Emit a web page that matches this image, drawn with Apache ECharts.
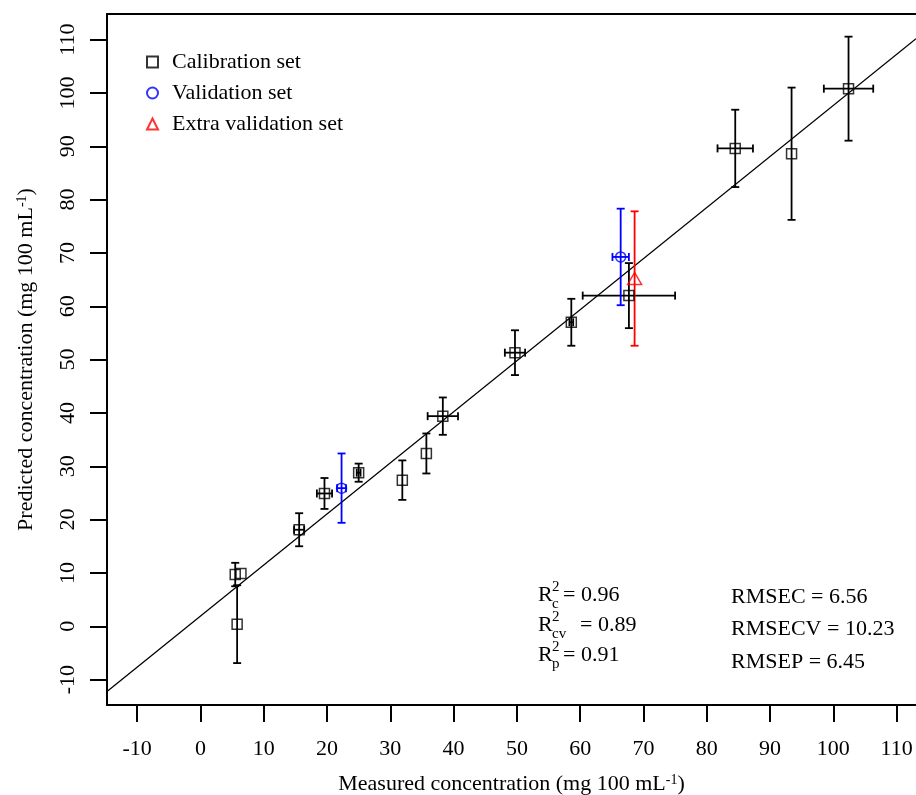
<!DOCTYPE html>
<html>
<head>
<meta charset="utf-8">
<script src="https://cdn.jsdelivr.net/npm/echarts@6/dist/echarts.min.js"></script>
<style>
  html, body { margin: 0; padding: 0; background: #fff; }
  #chart { width: 916px; height: 795px; }
</style>
</head>
<body>
<div id="chart"></div>
<script>
// axis ranges (R style padding; right side of the box is cut off) and tick values
var xMin = -14.76
var xMax = 113.06
var yMin = -14.76
var yMax = 114.8
var tickValues = [-10, 0, 10, 20, 30, 40, 50, 60, 70, 80, 90, 100, 110]

// calibration set
var calX = [5.8, 5.5, 6.4, 15.6, 19.6, 25.0, 31.9, 35.7, 38.3, 49.7, 58.6, 67.7, 84.5, 93.4, 102.4]
var calY = [0.4, 9.7, 9.9, 18.1, 24.9, 28.8, 27.4, 32.4, 39.4, 51.3, 57.0, 62.0, 89.6, 88.6, 100.8]
var calXErr = [0, 0, 0, 0.8, 1.2, 0.3, 0, 0, 2.4, 1.6, 0.3, 7.3, 2.8, 0, 3.9]
var calYErr = [7.3, 2.2, 0, 3.1, 2.9, 1.7, 3.7, 3.75, 3.5, 4.2, 4.4, 6.1, 7.25, 12.4, 9.75]

// validation set
var valX = [22.3, 66.4]
var valY = [25.9, 69.25]
var valXErr = [0.7, 1.3]
var valYErr = [6.5, 9.05]

// extra validation set
var extX = [68.6]
var extY = [65.2]
var extXErr = [0]
var extYErr = [12.6]

// fitted line
var fitSlope = 0.9575
var fitIntercept = 1.91

// statistics text
var r2Subs = ['c', 'cv', 'p']
var r2Values = ['0.96', '0.89', '0.91']
var rmseNames = ['RMSEC', 'RMSECV', 'RMSEP']
var rmseValues = ['6.56', '10.23', '6.45']

var FONT = 'Liberation Serif, Times New Roman, serif'

function points (xs, ys) {
  return xs.map(function (x, i) { return [x, ys[i]] })
}
function errPoints (xs, ys, xe, ye) {
  return xs.map(function (x, i) { return [x, ys[i], xe[i], ye[i]] })
}

function errorBars (color) {
  return function (params, api) {
    var x = api.value(0)
    var y = api.value(1)
    var xe = api.value(2)
    var ye = api.value(3)
    var cap = 4
    var style = { stroke: color, lineWidth: 1.8, fill: null }
    var kids = []
    function seg (x1, y1, x2, y2) {
      kids.push({ type: 'line', shape: { x1: x1, y1: y1, x2: x2, y2: y2 }, style: style })
    }
    if (ye > 0) {
      var t = api.coord([x, y + ye])
      var b = api.coord([x, y - ye])
      seg(t[0], t[1], b[0], b[1])
      seg(t[0] - cap, t[1], t[0] + cap, t[1])
      seg(b[0] - cap, b[1], b[0] + cap, b[1])
    }
    if (xe > 0) {
      var l = api.coord([x - xe, y])
      var r = api.coord([x + xe, y])
      seg(l[0], l[1], r[0], r[1])
      seg(l[0], l[1] - cap, l[0], l[1] + cap)
      seg(r[0], r[1] - cap, r[0], r[1] + cap)
    }
    return { type: 'group', children: kids }
  }
}

function errSeries (name, data, color) {
  return {
    name: name,
    type: 'custom',
    renderItem: errorBars(color),
    data: data,
    encode: { x: 0, y: 1 },
    z: 2,
    silent: true
  }
}

var nameStyle = {
  fontFamily: FONT, fontSize: 22, color: '#000',
  rich: { sup: { fontFamily: FONT, fontSize: 14, color: '#000', verticalAlign: 'top', lineHeight: 22 } }
}
var lineStyle = { color: '#000', width: 2 }
var tickStyle = { show: true, customValues: tickValues, length: 17, lineStyle: { color: '#000', width: 2 } }

var graphics = []
var rY = [595, 625, 655]
var eqX = [563, 580, 563]
r2Subs.forEach(function (s, i) {
  graphics.push({ type: 'text', x: 538, y: rY[i], style: { text: 'R', font: '22px ' + FONT, fill: '#000', textVerticalAlign: 'middle' } })
  graphics.push({ type: 'text', x: 552, y: rY[i] - 8, style: { text: '2', font: '15px ' + FONT, fill: '#000', textVerticalAlign: 'middle' } })
  graphics.push({ type: 'text', x: 552, y: rY[i] + 9, style: { text: s, font: '15px ' + FONT, fill: '#000', textVerticalAlign: 'middle' } })
  graphics.push({ type: 'text', x: eqX[i], y: rY[i], style: { text: '= ' + r2Values[i], font: '22px ' + FONT, fill: '#000', textVerticalAlign: 'middle' } })
})
var rmY = [597, 629, 662]
rmseNames.forEach(function (n, i) {
  graphics.push({ type: 'text', x: 731, y: rmY[i], style: { text: n + ' = ' + rmseValues[i], font: '22px ' + FONT, fill: '#000', textVerticalAlign: 'middle' } })
})

var chart = echarts.init(document.getElementById('chart'))
chart.setOption({
  animation: false,
  backgroundColor: '#fff',
  grid: { left: 107, top: 14, right: 0, height: 691, outerBoundsMode: 'none' },
  legend: {
    orient: 'vertical',
    left: 141,
    top: 46,
    itemWidth: 11,
    itemHeight: 11,
    itemGap: 9,
    selectedMode: false,
    textStyle: { fontFamily: FONT, fontSize: 22, color: '#000', padding: [0, 0, 0, 9] },
    data: ['Calibration set', 'Validation set', 'Extra validation set']
  },
  xAxis: [
    {
      type: 'value',
      min: xMin,
      max: xMax,
      splitLine: { show: false },
      axisLine: { show: true, onZero: false, lineStyle: lineStyle },
      axisTick: tickStyle,
      axisLabel: { customValues: tickValues, margin: 33, fontFamily: FONT, fontSize: 22, color: '#000' },
      name: 'Measured concentration (mg 100 mL{sup|-1})',
      nameLocation: 'middle',
      nameGap: 68,
      nameTextStyle: nameStyle
    },
    {
      // top edge of the box
      type: 'value',
      position: 'top',
      min: xMin,
      max: xMax,
      splitLine: { show: false },
      axisLine: { show: true, onZero: false, lineStyle: lineStyle },
      axisTick: { show: false },
      axisLabel: { show: false }
    }
  ],
  yAxis: {
    type: 'value',
    min: yMin,
    max: yMax,
    splitLine: { show: false },
    axisLine: { show: true, onZero: false, lineStyle: lineStyle },
    axisTick: tickStyle,
    axisLabel: { customValues: tickValues, rotate: 90, margin: 28, fontFamily: FONT, fontSize: 22, color: '#000' },
    name: 'Predicted concentration (mg 100 mL{sup|-1})',
    nameLocation: 'middle',
    nameGap: 70,
    nameTextStyle: nameStyle
  },
  graphic: graphics,
  series: [
    {
      name: 'fit',
      type: 'line',
      data: [[xMin, fitSlope * xMin + fitIntercept], [xMax, fitSlope * xMax + fitIntercept]],
      showSymbol: false,
      symbol: 'none',
      clip: true,
      lineStyle: { color: '#000', width: 1.3 },
      z: 1,
      silent: true
    },
    errSeries('calErr', errPoints(calX, calY, calXErr, calYErr), '#000'),
    errSeries('valErr', errPoints(valX, valY, valXErr, valYErr), '#0000ff'),
    errSeries('extErr', errPoints(extX, extY, extXErr, extYErr), '#ff0000'),
    {
      name: 'Calibration set',
      type: 'scatter',
      data: points(calX, calY),
      symbol: 'rect',
      symbolSize: 10,
      itemStyle: { color: 'transparent', borderColor: '#000', borderWidth: 1.5 },
      z: 3
    },
    {
      name: 'Validation set',
      type: 'scatter',
      data: points(valX, valY),
      symbol: 'circle',
      symbolSize: 10,
      itemStyle: { color: 'transparent', borderColor: '#0000ff', borderWidth: 1.5 },
      z: 3
    },
    {
      name: 'Extra validation set',
      type: 'scatter',
      data: points(extX, extY),
      symbol: 'triangle',
      symbolSize: [14, 12],
      itemStyle: { color: 'transparent', borderColor: '#ff0000', borderWidth: 1.5 },
      z: 3
    }
  ]
})
</script>
</body>
</html>
